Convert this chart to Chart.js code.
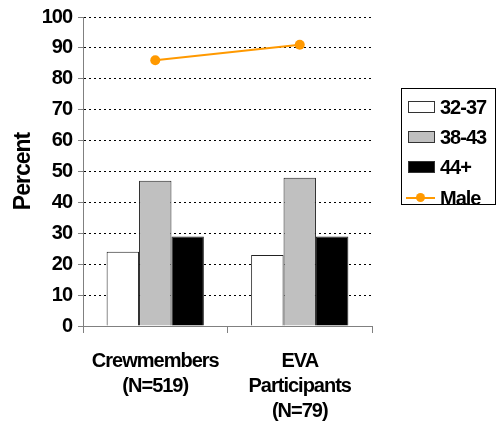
<!DOCTYPE html>
<html>
<head>
<meta charset="utf-8">
<script src="https://cdn.jsdelivr.net/npm/chart.js@4"></script>
<style>
  body { margin: 0; background: #fff; }
  #wrap { position: relative; width: 496px; height: 426px; }
  #legend {
    position: absolute; left: 401px; top: 88px; width: 93px; height: 115px;
    border: 1px solid #000; background: #fff;
    font: bold 20px "Liberation Sans", Arial, sans-serif; letter-spacing: -1px;
  }
  .item { position: absolute; left: 0; height: 24px; line-height: 24px; }
  .sw { position: absolute; left: 6px; top: 6px; width: 25px; height: 10px; border: 1px solid #333; }
  .ln { position: absolute; left: 4px; top: 11px; width: 29px; height: 2px; }
  .dot { position: absolute; left: 14px; top: 7px; width: 9px; height: 9px; border-radius: 50%; }
  .txt { position: absolute; left: 38px; top: 0; white-space: nowrap; }
</style>
</head>
<body>
<div id="wrap">
  <canvas id="myChart" width="496" height="426"></canvas>
  <div id="legend"></div>
</div>
<script>
const categories = [["Crewmembers", "(N=519)"], ["EVA", "Participants", "(N=79)"]];
const ageGroups = ["32-37", "38-43", "44+"];
const age3237 = [24, 23];
const age3843 = [47, 48];
const age44 = [29, 29];
const male = [86, 91];
const yTicks = [0, 10, 20, 30, 40, 50, 60, 70, 80, 90, 100];

const barColors = ["#ffffff", "#c0c0c0", "#000000"];
const maleColor = "#ff9900";
const font = "Liberation Sans";

const ctx = document.getElementById("myChart").getContext('2d');

// tighter lettering like the original
const tightText = {
    id: 'tightText',
    beforeLayout(chart) { chart.ctx.letterSpacing = '-1px'; },
    beforeDraw(chart) { chart.ctx.letterSpacing = '-1px'; }
};

const barData = [age3237, age3843, age44];
const datasets = ageGroups.map((g, i) => ({
    type: 'bar',
    label: g,
    data: barData[i],
    backgroundColor: barColors[i],
    borderColor: '#222',
    borderWidth: 1,
    borderSkipped: 'bottom',
    categoryPercentage: 0.673,
    barPercentage: 1
}));
datasets.push({
    type: 'line',
    label: 'Male',
    data: male,
    borderColor: maleColor,
    backgroundColor: maleColor,
    borderWidth: 2,
    pointRadius: 5,
    pointBackgroundColor: maleColor,
    pointBorderWidth: 0
});

const myChart = new Chart(ctx, {
    data: {
        labels: categories,
        datasets: datasets
    },
    plugins: [tightText],
    options: {
        responsive: false,
        animation: false,
        layout: { padding: { top: 17, right: 124, bottom: 0, left: 0 } },
        plugins: {
            legend: { display: false },
            tooltip: { enabled: false }
        },
        scales: {
            x: {
                offset: true,
                afterFit: s => { s.height = 100; },
                grid: { drawOnChartArea: false, drawTicks: true, tickLength: 7, tickColor: '#808080' },
                border: { color: '#808080', width: 1 },
                ticks: {
                    color: '#000',
                    padding: 16,
                    maxRotation: 0,
                    autoSkip: false,
                    font: { family: font, size: 20, weight: 'bold', lineHeight: 1.25 }
                }
            },
            y: {
                min: 0,
                max: 100,
                afterFit: s => { s.width = 83; },
                afterBuildTicks: s => { s.ticks = yTicks.map(v => ({ value: v })); },
                grid: {
                    color: c => c.tick && c.tick.value === 0 ? 'rgba(0,0,0,0)' : '#000',
                    tickColor: '#808080',
                    tickLength: 5,
                    lineWidth: 1
                },
                border: { color: '#808080', width: 1, dash: [2, 3] },
                ticks: {
                    color: '#000',
                    padding: 6,
                    font: { family: font, size: 20, weight: 'bold', lineHeight: 1 }
                },
                title: {
                    display: true,
                    text: 'Percent',
                    color: '#000',
                    padding: { top: 10, bottom: 0 },
                    font: { family: font, size: 23, weight: 'bold', lineHeight: 1.2 }
                }
            }
        }
    }
});

// legend built from the same series
const legend = document.getElementById("legend");
const tops = [6, 36, 66, 97];
const names = ageGroups.concat(["Male"]);
names.forEach((n, i) => {
    const item = document.createElement("div");
    item.className = "item";
    item.style.top = tops[i] + "px";
    if (i < ageGroups.length) {
        item.innerHTML = '<span class="sw" style="background:' + barColors[i] + '"></span>';
    } else {
        item.innerHTML = '<span class="ln" style="background:' + maleColor + '"></span>' +
            '<span class="dot" style="background:' + maleColor + '"></span>';
    }
    item.innerHTML += '<span class="txt">' + n + '</span>';
    legend.appendChild(item);
});
</script>
</body>
</html>
